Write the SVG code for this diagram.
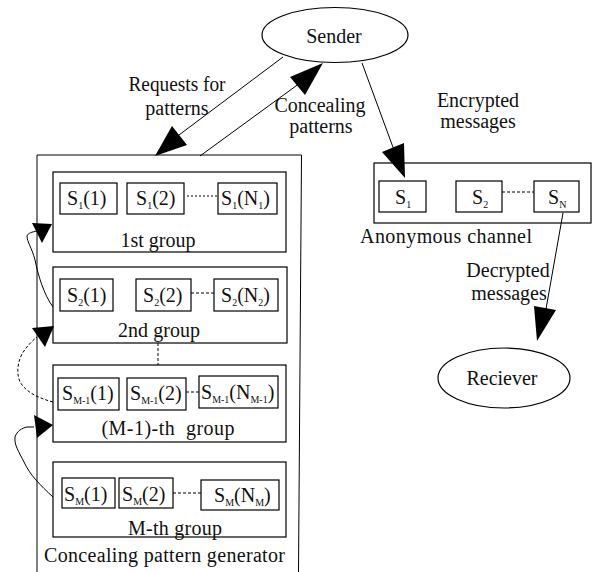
<svg xmlns="http://www.w3.org/2000/svg" width="593" height="572" viewBox="0 0 593 572">
<style>
.b{fill:#fff;stroke:#000;stroke-width:1.2}
.s{fill:#fff;stroke:#000;stroke-width:1.2}
.t{font-family:"Liberation Serif","Times New Roman",serif;font-size:20px;fill:#111}
.c{text-anchor:middle}
.sub{font-size:10px}
.ln{fill:none;stroke:#000;stroke-width:1}
.dl{fill:none;stroke:#000;stroke-width:1;stroke-dasharray:3,2}
.ah{fill:#000;stroke:none}
</style>
<rect width="593" height="572" fill="#fff"/>

<g id="generator">
<path class="ln" d="M37,572 L37,155 L301.5,155 L298.5,572" stroke-width="1.2"/>
<text class="t" x="44" y="562" textLength="241" lengthAdjust="spacing">Concealing pattern generator</text>
</g>

<g id="group1">
<rect class="b" x="53" y="172" width="233" height="80"/>
<rect class="s" x="60" y="183" width="57" height="31"/>
<text class="t" x="67" y="205">S<tspan class="sub" dy="4">1</tspan><tspan dy="-4">(1)</tspan></text>
<rect class="s" x="127" y="183" width="57" height="31"/>
<text class="t" x="136" y="205">S<tspan class="sub" dy="4">1</tspan><tspan dy="-4">(2)</tspan></text>
<line class="ln" x1="187" y1="196" x2="218" y2="196" stroke-dasharray="2,2"/>
<rect class="s" x="218" y="183" width="59" height="31"/>
<text class="t" x="221" y="205">S<tspan class="sub" dy="4">1</tspan><tspan dy="-4">(N</tspan><tspan class="sub" dy="4">1</tspan><tspan dy="-4">)</tspan></text>
<text class="t c" x="158" y="247" textLength="75" lengthAdjust="spacing">1st group</text>
</g>

<g id="group2">
<rect class="b" x="53" y="267" width="234" height="76"/>
<rect class="s" x="60" y="279" width="53" height="32"/>
<text class="t" x="67" y="302">S<tspan class="sub" dy="4">2</tspan><tspan dy="-4">(1)</tspan></text>
<rect class="s" x="136" y="279" width="55" height="32"/>
<text class="t" x="143" y="302">S<tspan class="sub" dy="4">2</tspan><tspan dy="-4">(2)</tspan></text>
<line class="dl" x1="191" y1="293" x2="214" y2="293"/>
<rect class="s" x="214" y="279" width="64" height="32"/>
<text class="t" x="221" y="302">S<tspan class="sub" dy="4">2</tspan><tspan dy="-4">(N</tspan><tspan class="sub" dy="4">2</tspan><tspan dy="-4">)</tspan></text>
<text class="t c" x="159" y="337" textLength="82" lengthAdjust="spacing">2nd group</text>
</g>

<g id="groupM1">
<rect class="b" x="53" y="365" width="233" height="77"/>
<rect class="s" x="58" y="378" width="61" height="32"/>
<text class="t" x="62" y="400">S<tspan class="sub" dy="4">M-1</tspan><tspan dy="-4">(1)</tspan></text>
<rect class="s" x="127" y="378" width="59" height="32"/>
<text class="t" x="130" y="400">S<tspan class="sub" dy="4">M-1</tspan><tspan dy="-4">(2)</tspan></text>
<line class="dl" x1="186" y1="392" x2="199" y2="392"/>
<rect class="s" x="199" y="376" width="79" height="32"/>
<text class="t" x="201" y="399">S<tspan class="sub" dy="4">M-1</tspan><tspan dy="-4">(N</tspan><tspan class="sub" dy="4">M-1</tspan><tspan dy="-4">)</tspan></text>
<text class="t c" x="168" y="435" xml:space="preserve" textLength="133" lengthAdjust="spacing">(M-1)-th  group</text>
</g>

<g id="groupM">
<rect class="b" x="53" y="462" width="233" height="75"/>
<rect class="s" x="62" y="478" width="53" height="30"/>
<text class="t" x="64" y="501">S<tspan class="sub" dy="4">M</tspan><tspan dy="-4">(1)</tspan></text>
<rect class="s" x="119" y="478" width="54" height="30"/>
<text class="t" x="122" y="501">S<tspan class="sub" dy="4">M</tspan><tspan dy="-4">(2)</tspan></text>
<line class="dl" x1="173" y1="493" x2="201" y2="493"/>
<rect class="s" x="201" y="480" width="78" height="30"/>
<text class="t" x="214" y="502">S<tspan class="sub" dy="4">M</tspan><tspan dy="-4">(N</tspan><tspan class="sub" dy="4">M</tspan><tspan dy="-4">)</tspan></text>
<text class="t c" x="175" y="535" textLength="94" lengthAdjust="spacing">M-th group</text>
</g>

<g id="sender">
<ellipse cx="335" cy="35" rx="73" ry="27.5" fill="#fff" stroke="#000" stroke-width="1.2"/>
<text class="t c" x="334" y="43">Sender</text>
</g>

<g id="channel">
<rect class="b" x="374" y="163" width="217" height="60"/>
<rect class="s" x="379" y="181" width="47" height="31"/>
<text class="t" x="395" y="204">S<tspan class="sub" dy="4">1</tspan></text>
<rect class="s" x="456" y="181" width="46" height="31"/>
<text class="t" x="472" y="204">S<tspan class="sub" dy="4">2</tspan></text>
<line class="dl" x1="502" y1="192" x2="534" y2="192"/>
<rect class="s" x="534" y="181" width="45" height="31"/>
<text class="t" x="548" y="204">S<tspan class="sub" dy="4">N</tspan></text>
<text class="t c" x="446" y="243" textLength="172" lengthAdjust="spacing">Anonymous channel</text>
</g>

<g id="receiver">
<ellipse cx="504" cy="378" rx="66" ry="30" fill="#fff" stroke="#000" stroke-width="1.2"/>
<text class="t c" x="502" y="385">Reciever</text>
</g>

<g id="connectors">
<line class="ln" x1="283" y1="57" x2="175" y2="138"/>
<polygon class="ah" points="155,156 172,126 187,145"/>
<line class="ln" x1="200" y1="156" x2="300" y2="83"/>
<polygon class="ah" points="323,63 290,77 305,95"/>
<line class="ln" x1="362" y1="63" x2="394" y2="150"/>
<polygon class="ah" points="405,178 382,152 404,143"/>
<line class="ln" x1="563" y1="213" x2="546" y2="309"/>
<polygon class="ah" points="537,341 534,306 556,310"/>
<line class="dl" x1="158" y1="343" x2="158" y2="365"/>
<path class="ln" d="M53,307 C44,295 38,275 35,260 C32,248 27,242 27,236 C28,233 32,232 37,231"/>
<polygon class="ah" points="32,223 52,224 42,243"/>
<path class="dl" d="M53,402 C38,398 26,392 20,382 C16,372 18,362 22,354 C27,346 32,341 37,337"/>
<polygon class="ah" points="32,328 54,326 45,347"/>
<path class="ln" d="M53,497 C40,485 30,475 24,462 C19,452 14,445 15,437 C17,431 22,428 27,427 L34,427"/>
<polygon class="ah" points="34,415 53,425 37,438"/>
</g>

<g id="labels">
<text class="t c" x="177" y="91" textLength="97" lengthAdjust="spacingAndGlyphs">Requests for</text>
<text class="t c" x="177" y="115">patterns</text>
<text class="t c" x="320" y="112">Concealing</text>
<text class="t c" x="321" y="133">patterns</text>
<text class="t c" x="478" y="107">Encrypted</text>
<text class="t c" x="478" y="128">messages</text>
<text class="t c" x="508" y="277">Decrypted</text>
<text class="t c" x="509" y="300">messages</text>
</g>
</svg>
